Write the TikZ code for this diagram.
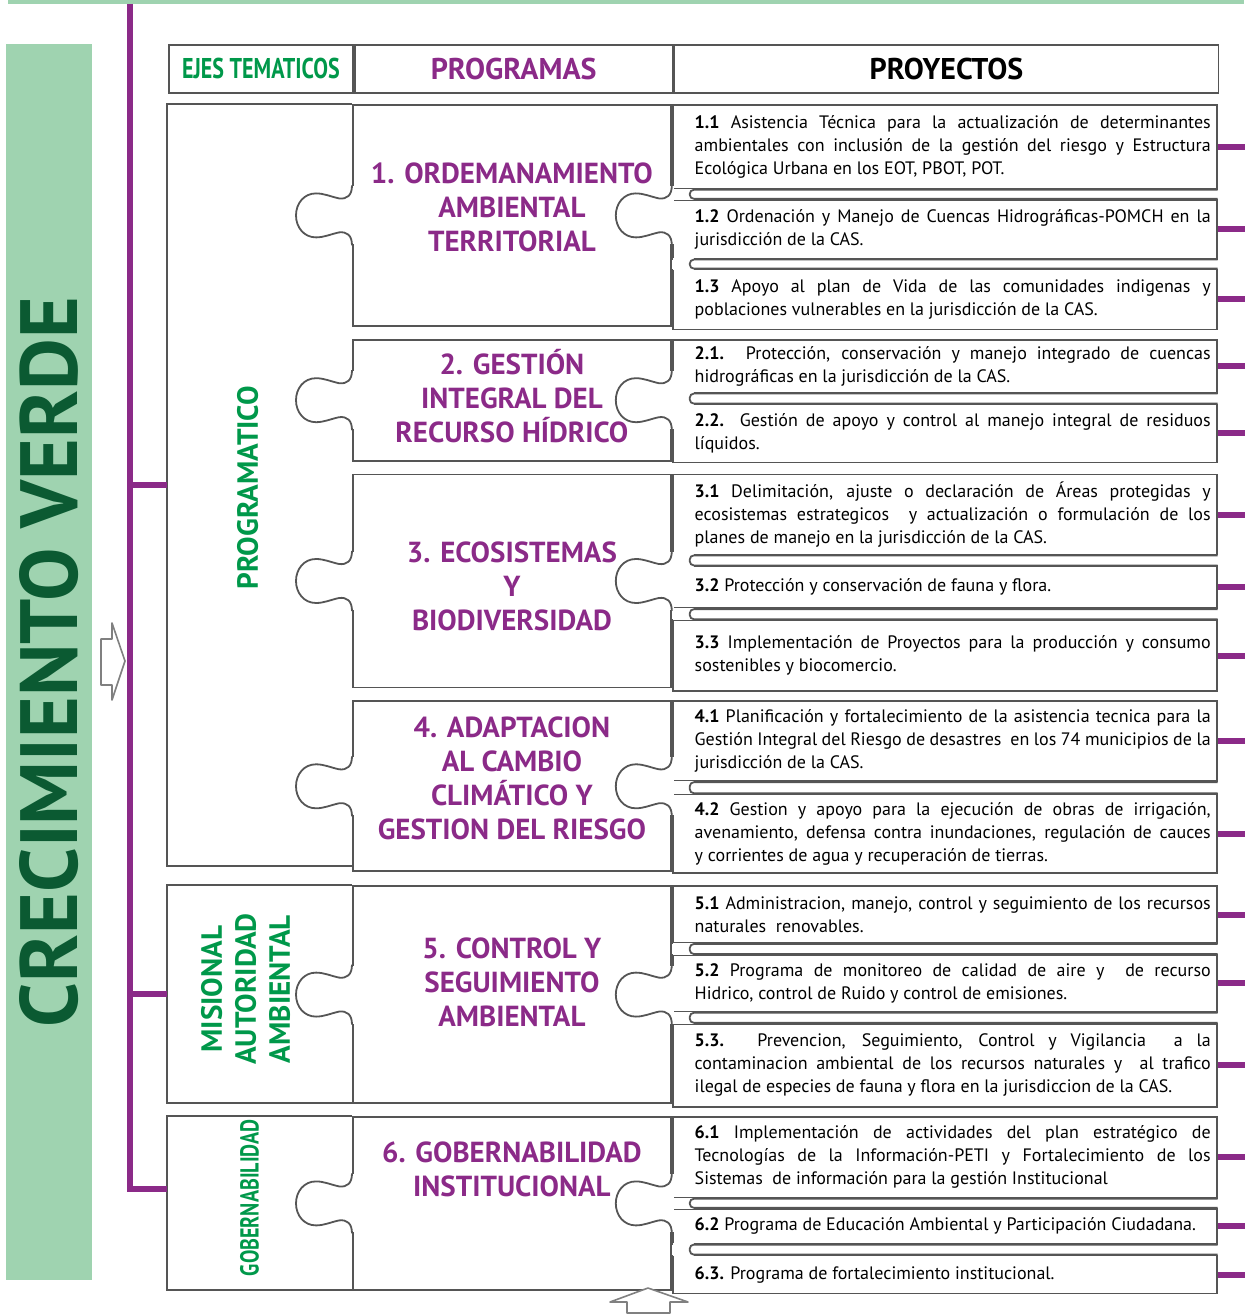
\documentclass[tikz,border=0pt]{standalone}
\usepackage{fontspec}
\setmainfont{PT Sans}
\newfontfamily\narrowfont[FakeStretch=0.77]{PT Sans}
\usetikzlibrary{positioning}

\definecolor{leafgreen}{HTML}{9FD3B0}
\definecolor{deepgreen}{HTML}{0B5A32}
\definecolor{axisgreen}{HTML}{00984A}
\definecolor{plum}{HTML}{8B2A88}
\definecolor{framegray}{HTML}{555555}

\newcommand{\proj}[2]{\hspace*{8pt}\parbox{258pt}{\textbf{#1} #2}}

\begin{document}
\begin{tikzpicture}[x=0.5pt, y=-0.5pt, node distance=6pt,
    box/.style={draw=framegray, line width=0.9pt, inner sep=0pt},
    head/.style={box, minimum height=24pt, font=\bfseries\fontsize{15}{17}\selectfont},
    prog/.style={box, minimum width=159pt},
    title/.style={text=plum, align=center, font=\bfseries\fontsize{14.5}{17}\selectfont},
    eje/.style={minimum width=92pt, inner sep=0pt},
    axis/.style={text=axisgreen, rotate=90, align=center, font=\bfseries\fontsize{14.6}{17}\selectfont},
    proj/.style={box, minimum width=272pt, inner xsep=3pt, inner ysep=1pt, anchor=north west,
      font=\fontsize{9}{11.5}\selectfont},
    tube/.style={draw=framegray, line width=0.9pt, rounded corners=2pt},
    bus/.style={plum, line width=3pt},
    hollow/.style={draw=gray, line width=0.8pt, fill=white, line join=round},
    tab/.pic={
      \fill[white] (-2,-29) rectangle (2,29);
      \draw[framegray, line width=0.9pt] (0,-30) .. controls (0,-20) and (-5,-16) .. (-13,-17)
        .. controls (-22,-19) and (-28,-22) .. (-36,-22)
        .. controls (-48,-22) and (-56,-12) .. (-56,0)
        .. controls (-56,12) and (-48,22) .. (-36,22)
        .. controls (-28,22) and (-22,19) .. (-13,17)
        .. controls (-5,16) and (0,20) .. (0,30);
    }
  ]
  \useasboundingbox (0,0) rectangle (1244,1315);

  % green band and title
  \fill[leafgreen] (8,0) rectangle (1244,4);
  \node[fill=leafgreen, rotate=90, minimum width=618pt, minimum height=43pt, inner sep=0pt,
    text=deepgreen] (bar) at (49,662) {\resizebox{365pt}{29pt}{\bfseries CRECIMIENTO VERDE}};

  % header row
  \node[head, minimum width=92pt, anchor=north west, text=axisgreen,
    font=\narrowfont\bfseries\fontsize{14.3}{16}\selectfont] (hejes) at (168,44) {EJES TEMATICOS};
  \node[head, minimum width=159pt, right=0pt of hejes, text=plum] (hprog) {PROGRAMAS};
  \node[head, minimum width=272pt, right=0pt of hprog] (hproy) {PROYECTOS};

  % programas
  \node[prog, minimum height=110.5pt, anchor=north west] (prog1) at (352,104) {};
  \node[prog, minimum height=60.5pt, below=of prog1] (prog2) {};
  \node[prog, minimum height=106.5pt, below=of prog2] (prog3) {};
  \node[prog, minimum height=85pt, below=of prog3] (prog4) {};
  \node[prog, minimum height=108.5pt, below=6.5pt of prog4] (prog5) {};
  \node[prog, minimum height=86.5pt, below=of prog5] (prog6) {};

  % ejes tematicos
  \node[eje, minimum height=380.5pt, anchor=north east] (eje1) at (prog1.north west) {};
  \node[eje, minimum height=108.5pt, anchor=north east] (eje2) at (prog5.north west) {};
  \node[eje, minimum height=86.5pt, anchor=north east] (eje3) at (prog6.north west) {};
  \foreach \e in {eje1, eje2, eje3}
    \draw[box] (\e.north east) -- (\e.north west) -- (\e.south west) -- (\e.south east);

  % proyectos
  \node[proj, minimum height=42pt] (p11) at (prog1.north east)
    {\proj{1.1}{Asistencia Técnica para la actualización de determinantes\linebreak
     ambientales con inclusión de la gestión del riesgo y Estructura\linebreak
     Ecológica Urbana en los EOT, PBOT, POT.}};
  \node[proj, minimum height=29.5pt, below=4.5pt of p11] (p12)
    {\proj{1.2}{Ordenación y Manejo de Cuencas Hidrográficas-POMCH en la\linebreak
     jurisdicción de la CAS.}};
  \node[proj, minimum height=30pt, below=4.5pt of p12] (p13)
    {\proj{1.3}{Apoyo al plan de Vida de las comunidades indigenas y\linebreak
     poblaciones vulnerables en la jurisdicción de la CAS.}};
  \node[proj, minimum height=26.5pt] (p21) at (prog2.north east)
    {\proj{2.1.}{Protección, conservación y manejo integrado de cuencas\linebreak
     hidrográficas en la jurisdicción de la CAS.}};
  \node[proj, minimum height=29pt, below=5pt of p21] (p22)
    {\proj{2.2.}{Gestión de apoyo y control al manejo integral de residuos\linebreak
     líquidos.}};
  \node[proj, minimum height=40pt] (p31) at (prog3.north east)
    {\proj{3.1}{Delimitación, ajuste o declaración de Áreas protegidas y\linebreak
     ecosistemas estrategicos \ y actualización o formulación de los\linebreak
     planes de manejo en la jurisdicción de la CAS.}};
  \node[proj, minimum height=21pt, below=5pt of p31] (p32)
    {\proj{3.2}{Protección y conservación de fauna y flora.}};
  \node[proj, minimum height=35.5pt, below=5pt of p32] (p33)
    {\proj{3.3}{Implementación de Proyectos para la producción y consumo\linebreak
     sostenibles y biocomercio.}};
  \node[proj, minimum height=40pt] (p41) at (prog4.north east)
    {\proj{4.1}{Planificación y fortalecimiento de la asistencia tecnica para la\linebreak
     Gestión Integral del Riesgo de desastres \ en los 74 municipios de la\linebreak
     jurisdicción de la CAS.}};
  \node[proj, minimum height=39.5pt, below=5.5pt of p41] (p42)
    {\proj{4.2}{Gestion y apoyo para la ejecución de obras de irrigación,\linebreak
     avenamiento, defensa contra inundaciones, regulación de cauces\linebreak
     y corrientes de agua y recuperación de tierras.}};
  \node[proj, minimum height=28.5pt] (p51) at (prog5.north east)
    {\proj{5.1}{Administracion, manejo, control y seguimiento de los recursos\linebreak
     naturales \ renovables.}};
  \node[proj, minimum height=28.5pt, below=5pt of p51] (p52)
    {\proj{5.2}{Programa de monitoreo de calidad de aire y \ de recurso\linebreak
     Hidrico, control de Ruido y control de emisiones.}};
  \node[proj, minimum height=41.5pt, below=5pt of p52] (p53)
    {\proj{5.3.}{Prevencion, Seguimiento, Control y Vigilancia \ a la\linebreak
     contaminacion ambiental de los recursos naturales y \ al trafico\linebreak
     ilegal de especies de fauna y flora en la jurisdiccion de la CAS.}};
  \node[proj, minimum height=40.5pt] (p61) at (prog6.north east)
    {\proj{6.1}{Implementación de actividades del plan estratégico de\linebreak
     Tecnologías de la Información-PETI y Fortalecimiento de los\linebreak
     Sistemas \ de información para la gestión Institucional}};
  \node[proj, minimum height=17.5pt, below=4.5pt of p61] (p62)
    {\proj{6.2}{Programa de Educación Ambiental y Participación Ciudadana.}};
  \node[proj, minimum height=19pt, below=5pt of p62] (p63)
    {\proj{6.3.}{Programa de fortalecimiento institucional.}};

  % tubes between project boxes
  \foreach \a/\b in {p11/p12, p12/p13, p21/p22, p31/p32, p32/p33, p41/p42,
                     p51/p52, p52/p53, p61/p62, p62/p63} {
    \fill[white] ([xshift=0.6pt, yshift=0.6pt]\a.south west) rectangle ([xshift=11pt, yshift=-0.6pt]\b.north west);
    \draw[tube] (\a.south east) -- ([xshift=9pt]\a.south west) -- ([xshift=9pt]\b.north west) -- (\b.north east);
  }

  % puzzle tabs
  \foreach \p in {prog1, prog2, prog3, prog4, prog5, prog6} {
    \pic at (\p.west) {tab};
    \pic at (\p.east) {tab};
  }

  % program titles
  \node[title] (t1) at ([yshift=4pt]prog1.center) {1. ORDEMANAMIENTO\\AMBIENTAL\\TERRITORIAL};
  \node[title] (t2) at ([yshift=2pt]prog2.center) {2. GESTIÓN\\INTEGRAL DEL\\RECURSO HÍDRICO};
  \node[title] (t3) at ([yshift=-2.5pt]prog3.center) {3. ECOSISTEMAS\\Y\\BIODIVERSIDAD};
  \node[title] (t4) at ([yshift=4pt]prog4.center) {4. ADAPTACION\\AL CAMBIO\\CLIMÁTICO Y\\GESTION DEL RIESGO};
  \node[title] (t5) at ([yshift=6pt]prog5.center) {5. CONTROL Y\\SEGUIMIENTO\\AMBIENTAL};
  \node[title] (t6) at ([yshift=17pt]prog6.center) {6. GOBERNABILIDAD\\INSTITUCIONAL};

  % eje labels
  \node[axis] (a1) at ([xshift=-6pt, yshift=-1.5pt]eje1.center) {PROGRAMATICO};
  \node[axis] (a2) at ([xshift=-7pt, yshift=2.5pt]eje2.center) {MISIONAL\\AUTORIDAD\\AMBIENTAL};
  \node[axis, font=\narrowfont\bfseries\fontsize{13}{15}\selectfont] (a3) at ([xshift=-5pt, yshift=2.5pt]eje3.center) {GOBERNABILIDAD};

  % purple bus
  \coordinate (bustop) at (130,4);
  \draw[bus] (bustop) |- ([yshift=6.75pt]eje3.west);
  \draw[bus] (bustop |- eje1.west) -- (eje1.west);
  \draw[bus] (bustop |- eje2.west) -- (eje2.west);
  \foreach \p in {p11, p12, p13, p21, p22, p31, p32, p33, p41, p42, p51, p52, p53, p61, p62, p63}
    \draw[bus] (\p.east) -- ++(30,0);

  % hollow arrows
  \draw[hollow] (101,639) -- (112,639) -- (112,623) -- (125,661) -- (112,700) -- (112,685) -- (101,685) -- cycle;
  \draw[hollow] (627,1313) -- (627,1302) -- (610,1302) -- (648,1288) -- (688,1302) -- (670,1302) -- (670,1313) -- cycle;
\end{tikzpicture}
\end{document}
